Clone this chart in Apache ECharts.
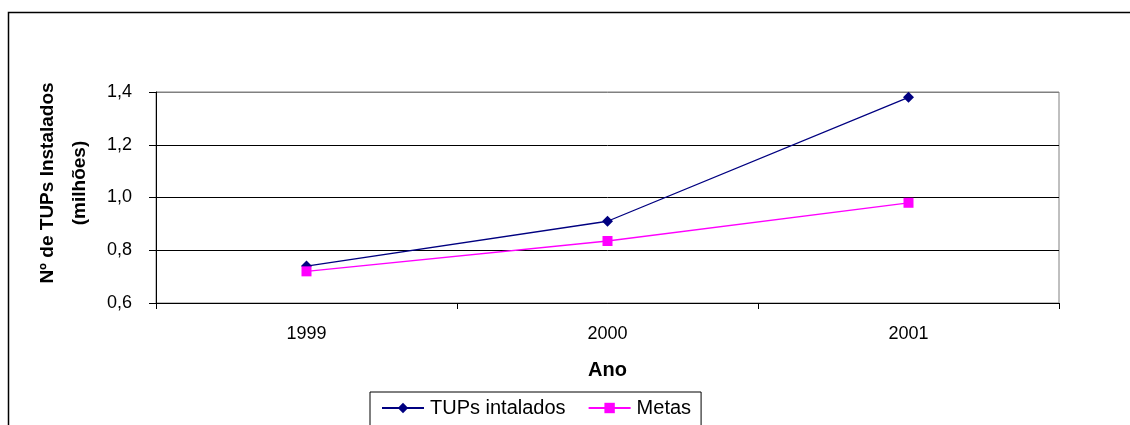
<!DOCTYPE html>
<html>
<head>
<meta charset="utf-8">
<script src="https://cdn.jsdelivr.net/npm/echarts@6/dist/echarts.min.js"></script>
<style>
  html, body { margin: 0; padding: 0; background: #fff; }
  #chart { width: 1130px; height: 425px; }
</style>
</head>
<body>
<div id="chart"></div>
<script>
// Terminais de uso público instalados vs. metas (milhões)
const anos = ['1999', '2000', '2001'];
const tupsInstalados = [0.74, 0.91, 1.38];
const metas = [0.72, 0.835, 0.98];
const yTicks = [0.6, 0.8, 1.0, 1.2, 1.4];
const yTickLabels = ['0,6', '0,8', '1,0', '1,2', '1,4'];

const FONT = '"Liberation Sans", Arial, sans-serif';

const chart = echarts.init(document.getElementById('chart'), null, { renderer: 'canvas' });

chart.setOption({
  backgroundColor: '#fff',
  animation: false,
  textStyle: { fontFamily: FONT },
  grid: {
    left: 156, right: 71, top: 92, bottom: 122,
    show: true, borderColor: '#808080', borderWidth: 1,
    backgroundColor: '#fff'
  },
  legend: {
    left: 370, top: 392,
    orient: 'horizontal',
    borderColor: '#000', borderWidth: 1,
    padding: [6, 10, 10, 11],
    itemWidth: 42, itemHeight: 13, itemGap: 22,
    textStyle: { fontFamily: FONT, fontSize: 20, color: '#000', padding: [0, 0, 0, 1] },
    data: ['TUPs intalados', 'Metas']
  },
  xAxis: {
    type: 'category',
    data: anos,
    boundaryGap: true,
    name: 'Ano',
    nameLocation: 'middle',
    nameGap: 57,
    nameTextStyle: { fontFamily: FONT, fontSize: 20, fontWeight: 'bold', color: '#000' },
    axisLine: { lineStyle: { color: '#000', width: 1 } },
    axisTick: { show: true, length: 6, lineStyle: { color: '#000' } },
    axisLabel: { margin: 22, fontSize: 18, color: '#000', fontFamily: FONT },
    splitLine: { show: false }
  },
  yAxis: {
    type: 'value',
    min: yTicks[0],
    max: yTicks[yTicks.length - 1],
    interval: 0.2,
    axisLine: { show: true, lineStyle: { color: '#000', width: 1 } },
    axisTick: { show: true, length: 7, lineStyle: { color: '#000' } },
    axisLabel: {
      margin: 24, fontSize: 18, color: '#000', fontFamily: FONT,
      formatter: function (v) {
        const i = yTicks.findIndex(t => Math.abs(t - v) < 1e-6);
        return i >= 0 ? yTickLabels[i] : '';
      }
    },
    splitLine: { show: true, lineStyle: { color: ['#000', '#000', '#000', '#000', '#808080'], width: 1 } }
  },
  graphic: [
    // moldura da área do gráfico
    {
      type: 'rect', silent: true, z: 100,
      shape: { x: 8.5, y: 12.5, width: 1300, height: 600 },
      style: { fill: null, stroke: '#000', lineWidth: 1.5 }
    },
    // título do eixo Y (duas linhas)
    {
      type: 'text', silent: true, z: 100,
      x: 48, y: 183, rotation: Math.PI / 2,
      style: {
        text: 'Nº de TUPs Instalados', font: 'bold 19px ' + FONT,
        fill: '#000', align: 'center', verticalAlign: 'middle'
      }
    },
    {
      type: 'text', silent: true, z: 100,
      x: 80, y: 183, rotation: Math.PI / 2,
      style: {
        text: '(milhões)', font: 'bold 19px ' + FONT,
        fill: '#000', align: 'center', verticalAlign: 'middle'
      }
    }
  ],
  series: [
    {
      name: 'TUPs intalados',
      type: 'line',
      data: tupsInstalados,
      symbol: 'diamond',
      symbolSize: 11,
      lineStyle: { color: '#000080', width: 1.3 },
      itemStyle: { color: '#000080' },
      z: 2
    },
    {
      name: 'Metas',
      type: 'line',
      data: metas,
      symbol: 'rect',
      symbolSize: 10,
      lineStyle: { color: '#FF00FF', width: 1.3 },
      itemStyle: { color: '#FF00FF' },
      z: 3
    }
  ]
});
</script>
</body>
</html>
